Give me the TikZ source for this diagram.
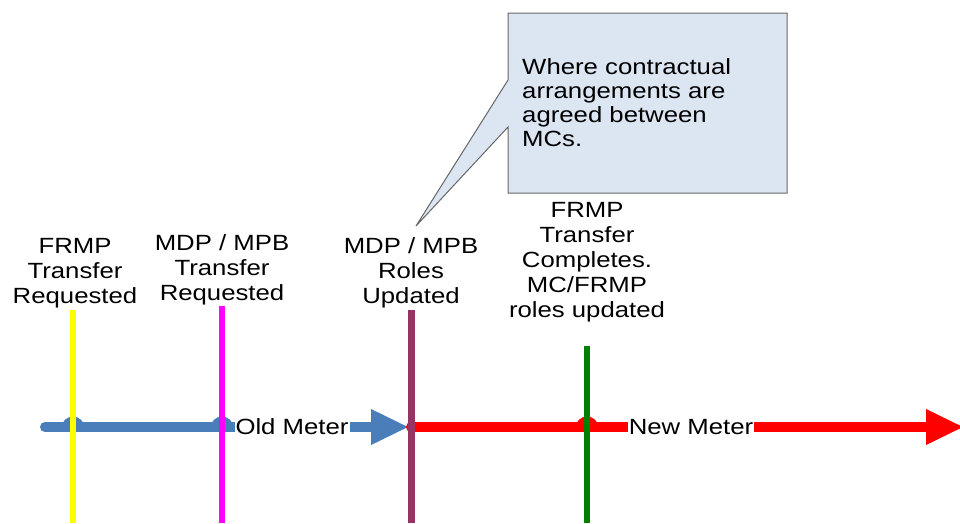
\documentclass[tikz,border=0pt]{standalone}
\usepackage{fontspec}
\setmainfont{Liberation Sans}[FakeStretch=1.17]
\usetikzlibrary{arrows.meta}
\definecolor{oldblue}{HTML}{4A7EBB}
\definecolor{reqyellow}{HTML}{FFFF00}
\definecolor{reqmagenta}{HTML}{FF00FF}
\definecolor{rolepurple}{HTML}{993366}
\definecolor{greenline}{HTML}{008000}
\definecolor{newred}{HTML}{FF0000}
\definecolor{notefill}{HTML}{DCE6F2}
\definecolor{notedraw}{HTML}{666666}
\tikzset{
  txt/.style={align=center,inner sep=0pt,font=\fontsize{22}{25}\selectfont},
  marker/.style={line width=6pt},
  meter/.style={line width=10pt,line cap=round},
  tip/.style={-{Triangle[length=38pt,width=33pt]}},
}
\begin{document}
\begin{tikzpicture}[x=1pt,y=-1pt]
      \useasboundingbox (0,0) rectangle (960,523);
      % time line
      \coordinate (os) at (45,427);
      \coordinate (up) at (409,427);
      \coordinate (ns) at (411,427);
      \coordinate (ne) at (964,427);
      \draw [meter,oldblue,tip](os)--(up);
      \draw [meter,newred,tip](ns)--(ne);
      \filldraw [oldblue,line width=1pt](62,428) arc (-180:0:11) -- cycle;
      \filldraw [oldblue,line width=1pt](211,428) arc (-180:0:11) -- cycle;
      \filldraw [newred,line width=1pt](576,428) arc (-180:0:11) -- cycle;
      \node (old)[txt,fill=white,inner sep=1pt] at (292,427){Old Meter};
      \node (new)[txt,fill=white,inner sep=1pt] at (691,427){New Meter};
      % events
      \coordinate (1t) at (73,310);  \coordinate (1b) at (73,523);
      \coordinate (2t) at (222,306); \coordinate (2b) at (222,523);
      \coordinate (3t) at (411,310); \coordinate (3b) at (411,523);
      \coordinate (4t) at (587,346); \coordinate (4b) at (587,523);
      \draw [marker,reqyellow](1t)--(1b);
      \draw [marker,reqmagenta](2t)--(2b);
      \draw [marker,rolepurple,line width=7pt](3t)--(3b);
      \draw [marker,greenline](4t)--(4b);
      \node (1)[txt] at (75,273){FRMP\\Transfer\\Requested};
      \node (2)[txt] at (222,270){MDP / MPB\\Transfer\\Requested};
      \node (3)[txt] at (411,273){MDP / MPB\\Roles\\Updated};
      \node (4)[txt] at (587,262){FRMP\\Transfer\\Completes.\\MC/FRMP\\roles updated};
      % note
      \coordinate (pt) at (416,226);
      \draw [notedraw,fill=notefill,line width=1pt](508,13)--(787,13)--(787,193)--(508,193)
            --(508,127)--(pt)--(508,80)--cycle;
      \node (note)[txt,align=left,anchor=north west,font=\fontsize{22}{24}\selectfont] at (522,58)
            {Where contractual\\arrangements are\\agreed between\\MCs.};
    \end{tikzpicture}
\end{document}
